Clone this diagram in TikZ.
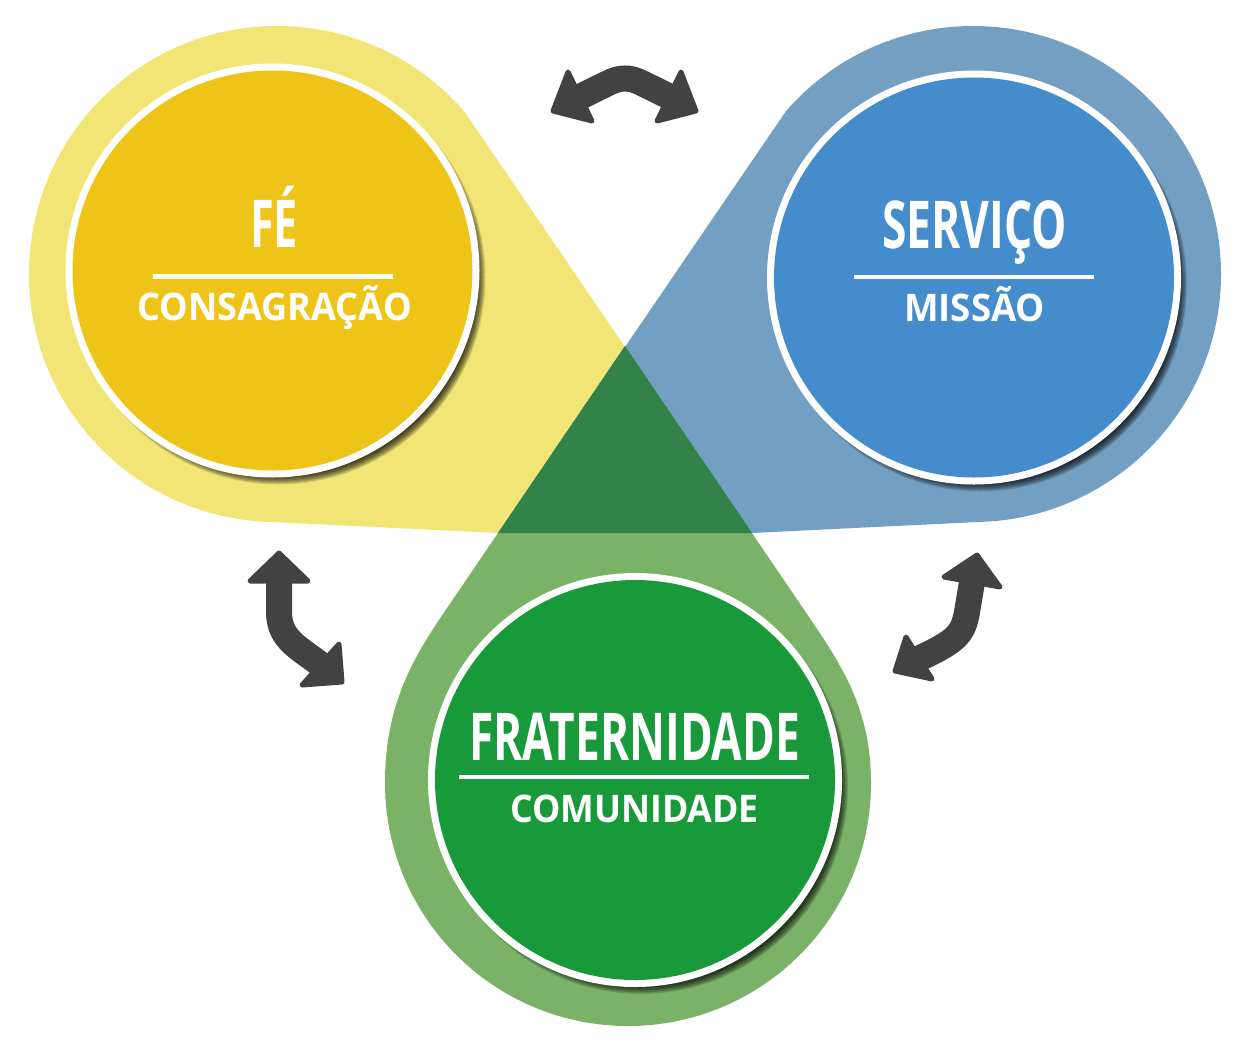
\documentclass[tikz,border=0pt]{standalone}
\usepackage{fontspec}
\setmainfont{Open Sans}
\definecolor{yelOut}{HTML}{F1E675}
\definecolor{yelIn}{HTML}{EFC419}
\definecolor{bluOut}{HTML}{739FC2}
\definecolor{bluIn}{HTML}{448CCB}
\definecolor{grnOut}{HTML}{7AB267}
\definecolor{grnIn}{HTML}{18993A}
\definecolor{midGrn}{HTML}{33824A}
\definecolor{arrGray}{HTML}{424242}
\newlength\fitlen
\newcommand\fitx[2]{\settowidth\fitlen{#2}\pgfmathsetmacro\fitr{#1/\fitlen}\scalebox{\fitr}[1]{#2}}
\newcommand\discdraw[3]{%
  \foreach \k in {0,...,8} \fill[black, opacity=0.13] (#1+6,#2+7) circle[radius=199+\k];
  \fill[white] (#1,#2) circle[radius=207];
  \fill[#3] (#1,#2) circle[radius=200];}
\begin{document}
\begin{tikzpicture}[x=1pt,y=-1pt,
  ttl/.style={font=\fontsize{66}{70}\selectfont\bfseries, text=white, inner sep=0pt, anchor=base},
  sub/.style={font=\fontsize{38}{42}\selectfont\bfseries, text=white, inner sep=0pt, anchor=base},
  sep/.style={draw=white, line width=4.5pt},
  shaft/.style={draw=arrGray, line width=26pt},
  head/.style={fill=arrGray, draw=arrGray, line width=5pt, line join=round}]
\useasboundingbox (0,0) rectangle (1249,1053);
\fill[white] (0,0) rectangle (1249,1053);
% outer teardrops
\fill[yelOut] ([shift={(277,274)}]-41:248) arc[start angle=-41, end angle=-266, radius=248] -- (498,533) -- (752,533) -- cycle;
\fill[bluOut] ([shift={(973,274)}]-139:248) arc[start angle=-139, end angle=86, radius=248] -- (752,533) -- (498,533) -- cycle;
\fill[grnOut] (625,346) -- (441,617) .. controls (407,667) and (385,713) .. (385,783)
   arc[start angle=180, end angle=0, radius=243]
   .. controls (871,713) and (845,670) .. (811,620) -- cycle;
\fill[midGrn] (625,346) -- (752,533) -- (498,533) -- cycle;
% inner discs
\discdraw{272.5}{270.5}{yelIn}
\discdraw{974}{277.5}{bluIn}
\discdraw{635}{780}{grnIn}
% arrows: top (FE <-> SERVICO)
\coordinate (tA1) at (578,98);
\coordinate (tA2) at (672,98);
\draw[shaft] (tA1) -- (598,88) .. controls (609,83) and (615,78.5) .. (625,78.5)
   .. controls (635,78.5) and (641,83) .. (652,88) -- (tA2);
\fill[head] (553,111) -- (568,72) -- (592,121) -- cycle;
\fill[head] (696,111) -- (681,72) -- (657,121) -- cycle;
% arrows: bottom left (FE <-> FRATERNIDADE)
\coordinate (lA1) at (279,580);
\coordinate (lA2) at (321,665);
\draw[shaft] (lA1) -- (279,612) .. controls (279,640) and (300,648) .. (lA2);
\fill[head] (279,553) -- (250,581) -- (308,581) -- cycle;
\fill[head] (342,682) -- (339,644) -- (302,685) -- cycle;
% arrows: bottom right (SERVICO <-> FRATERNIDADE)
\coordinate (rA1) at (972,582);
\coordinate (rA2) at (918,659);
\draw[shaft] (rA1) -- (967,612) .. controls (963,634) and (957,641) .. (rA2);
\fill[head] (977,555) -- (944,577) -- (1000,587) -- cycle;
\fill[head] (895,671) -- (906,637) -- (932,679) -- cycle;
% texts
\node[ttl] (fe) at (274,247) {\fitx{48}{FÉ}};
\draw[sep] (153,276.5) -- (393,276.5);
\node[sub] (consag) at (274.5,320) {\fitx{275}{CONSAGRAÇÃO}};
\node[ttl] (servico) at (974.5,248) {\fitx{185}{SERVIÇO}};
\draw[sep] (854,277) -- (1094,277);
\node[sub] (missao) at (974.5,321) {\fitx{141}{MISSÃO}};
\node[ttl] (frat) at (634.5,760) {\fitx{331}{FRATERNIDADE}};
\draw[sep] (459,777) -- (809,777);
\node[sub] (comun) at (634.5,822) {\fitx{249}{COMUNIDADE}};
\end{tikzpicture}
\end{document}
